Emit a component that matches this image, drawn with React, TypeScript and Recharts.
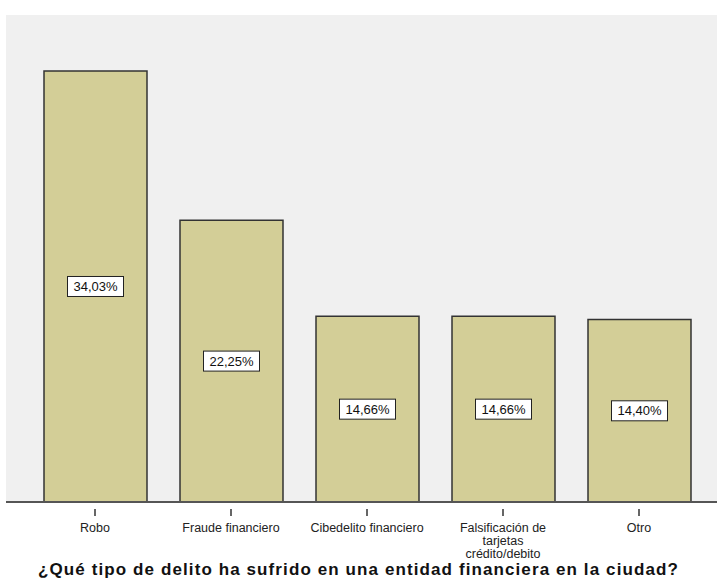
import React from 'react'
import { BarChart, Bar, XAxis, YAxis, CartesianGrid, LabelList } from 'recharts'

const categories = [
  'Robo',
  'Fraude financiero',
  'Cibedelito financiero',
  'Falsificación de tarjetas crédito/debito',
  'Otro',
]
const percents = [34.03, 22.25, 14.66, 14.66, 14.4]

// wrapped tick lines, as drawn in the original
const tickLines: Record<string, string[]> = {
  'Falsificación de tarjetas crédito/debito': ['Falsificación de', 'tarjetas', 'crédito/debito'],
}

const data = categories.map((name, i) => ({ name, value: percents[i] }))

const fmt = (v: number) => v.toFixed(2).replace('.', ',') + '%'

const CategoryTick = (props: any) => {
  const { x, y, payload } = props
  const lines = tickLines[payload.value] || [payload.value]
  return (
    <g transform={`translate(${x},${y})`}>
      <line x1={0} x2={0} y1={-1} y2={6} stroke="#333" strokeWidth={1.5} />
      {lines.map((l, i) => (
        <text
          key={i}
          x={0}
          y={22 + i * 13}
          textAnchor="middle"
          fontSize={12.5}
          fontFamily="'Liberation Sans', Arial, sans-serif"
          fill="#222"
        >
          {l}
        </text>
      ))}
    </g>
  )
}

const BoxLabel = (props: any) => {
  const { x, y, width, height, value } = props
  const cx = x + width / 2
  const cy = y + height / 2
  const w = 56
  const h = 20
  return (
    <g>
      <rect x={cx - w / 2} y={cy - h / 2} width={w} height={h} fill="#fff" stroke="#222" strokeWidth={1} />
      <text
        x={cx}
        y={cy + 4.5}
        textAnchor="middle"
        fontSize={13}
        fontFamily="'Liberation Sans', Arial, sans-serif"
        fill="#111"
      >
        {fmt(value)}
      </text>
    </g>
  )
}

export default function App() {
  return (
    <div style={{ position: 'absolute', left: 0, top: 0, width: 717, height: 585, background: '#fff' }}>
      <BarChart width={717} height={585} data={data} margin={{ top: 15, right: 0, left: 6, bottom: 0 }}>
        <CartesianGrid horizontal={false} vertical={false} fill="#f0f0f0" stroke="none" />
        <XAxis
          dataKey="name"
          interval={0}
          padding={{ left: 21, right: 10 }}
          axisLine={{ stroke: '#555', strokeWidth: 2 }}
          tickLine={false}
          tick={<CategoryTick />}
          height={83}
        />
        <YAxis hide domain={[0, 38.45]} />
        <Bar dataKey="value" fill="#d3ce97" stroke="#333" strokeWidth={1.5} barSize={103} isAnimationActive={false}>
          <LabelList dataKey="value" content={<BoxLabel />} />
        </Bar>
      </BarChart>
      <div
        style={{
          position: 'absolute',
          left: 0,
          top: 560,
          width: 717,
          textAlign: 'center',
          fontFamily: "'Liberation Sans', Arial, sans-serif",
          fontWeight: 'bold',
          fontSize: 17,
          color: '#111',
          letterSpacing: 1.1,
        }}
      >
        ¿Qué tipo de delito ha sufrido en una entidad financiera en la ciudad?
      </div>
    </div>
  )
}
